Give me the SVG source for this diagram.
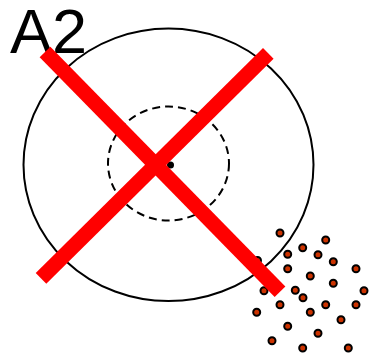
<svg xmlns="http://www.w3.org/2000/svg" width="370" height="356" viewBox="0 0 370 356">
<style>
.p{fill:#cc3300;stroke:#000;stroke-width:2}
.x{stroke:#ff0000;stroke-width:15;stroke-linecap:butt;fill:none}
</style>
<rect width="370" height="356" fill="#fff"/>
<text x="10" y="53" font-family="Liberation Sans, Arial, sans-serif" font-size="63" fill="#000">A2</text>
<g id="outer">
<ellipse cx="168.5" cy="164.8" rx="145" ry="136.3" fill="none" stroke="#000" stroke-width="2"/>
</g>
<g id="inner">
<ellipse cx="168.5" cy="163.5" rx="60.5" ry="57" fill="none" stroke="#000" stroke-width="2" stroke-dasharray="8,5"/>
<circle cx="170.5" cy="165" r="3.5" fill="#000"/>
</g>
<g id="particles">
<circle class="p" cx="280" cy="233" r="3.5"/>
<circle class="p" cx="325.7" cy="240" r="3.5"/>
<circle class="p" cx="302.7" cy="247.7" r="3.5"/>
<circle class="p" cx="287.7" cy="254.3" r="3.5"/>
<circle class="p" cx="318" cy="254.7" r="3.5"/>
<circle class="p" cx="333.3" cy="261.7" r="3.5"/>
<circle class="p" cx="257.5" cy="260.5" r="3.5"/>
<circle class="p" cx="287.7" cy="268.7" r="3.5"/>
<circle class="p" cx="356" cy="268.7" r="3.5"/>
<circle class="p" cx="310.3" cy="276" r="3.5"/>
<circle class="p" cx="333.3" cy="283.3" r="3.5"/>
<circle class="p" cx="264" cy="290.7" r="3.5"/>
<circle class="p" cx="295.3" cy="290.3" r="3.5"/>
<circle class="p" cx="364" cy="290.7" r="3.5"/>
<circle class="p" cx="303" cy="297.7" r="3.5"/>
<circle class="p" cx="280" cy="304.7" r="3.5"/>
<circle class="p" cx="325.7" cy="304.7" r="3.5"/>
<circle class="p" cx="356" cy="304.7" r="3.5"/>
<circle class="p" cx="256.7" cy="312.3" r="3.5"/>
<circle class="p" cx="310.3" cy="312.3" r="3.5"/>
<circle class="p" cx="341" cy="319.7" r="3.5"/>
<circle class="p" cx="287.7" cy="326.3" r="3.5"/>
<circle class="p" cx="318" cy="333.3" r="3.5"/>
<circle class="p" cx="272" cy="340.7" r="3.5"/>
<circle class="p" cx="302.7" cy="348" r="3.5"/>
<circle class="p" cx="348.3" cy="348" r="3.5"/>
</g>
<g id="cross">
<line class="x" x1="45" y1="52" x2="280" y2="291.7"/>
<line class="x" x1="268.3" y1="53.3" x2="41" y2="278.3"/>
</g>
</svg>
